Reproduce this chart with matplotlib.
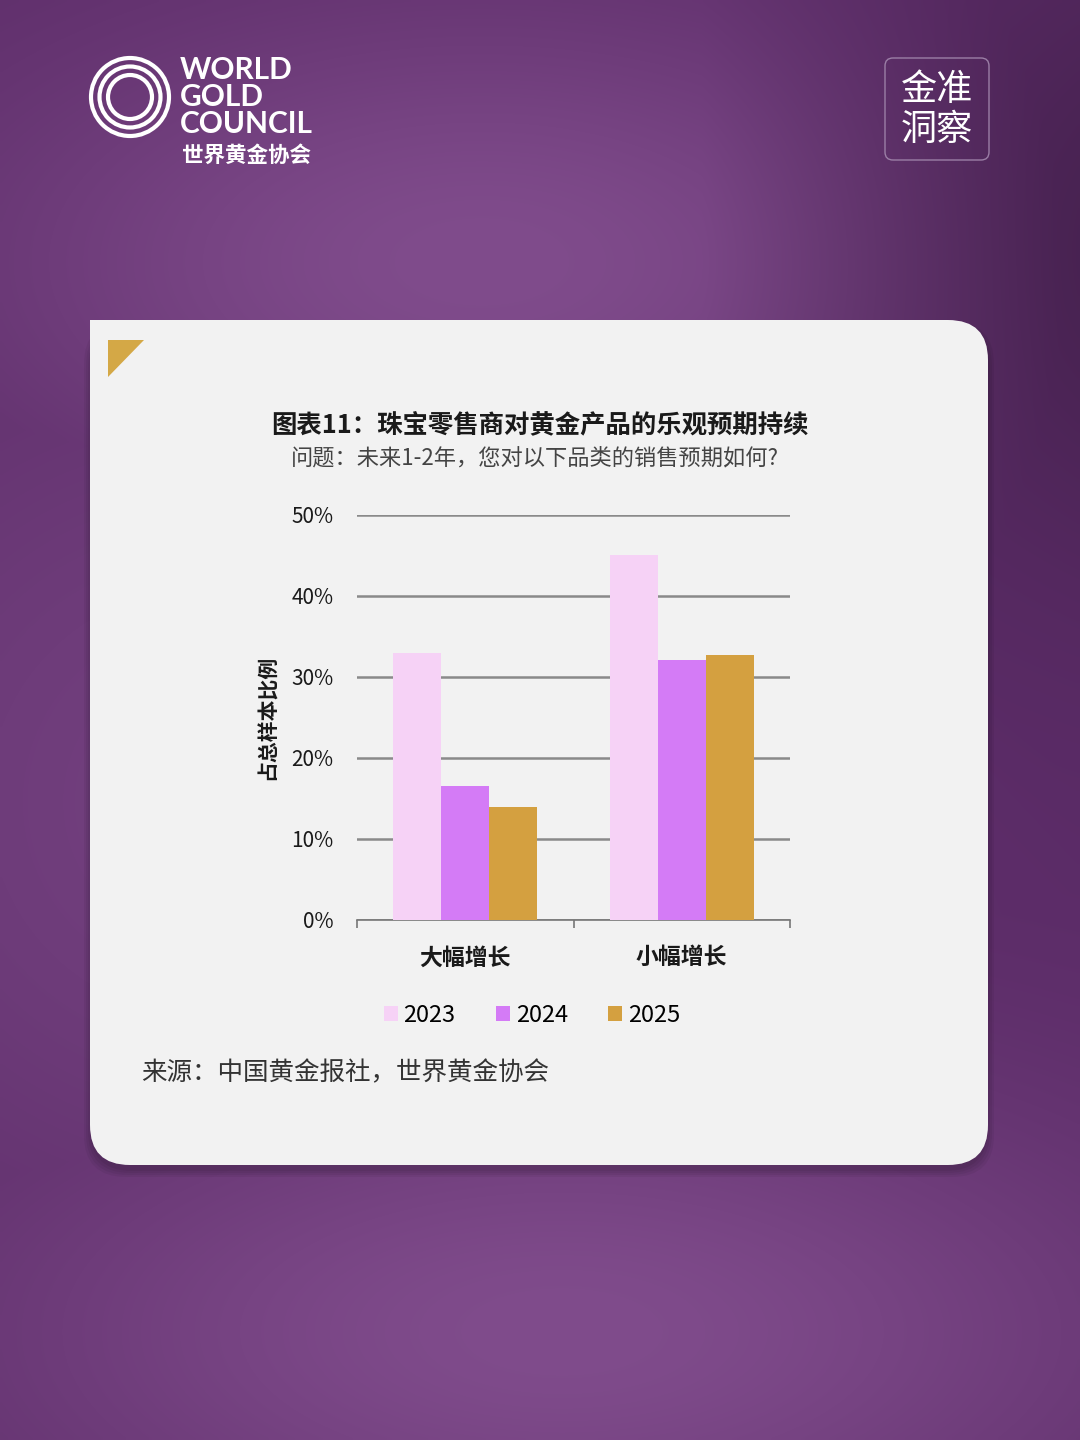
import numpy as np
import matplotlib
matplotlib.use("Agg")
import matplotlib.pyplot as plt
from matplotlib.patches import FancyBboxPatch, Rectangle, Circle, Polygon, Patch

plt.rcParams['font.family'] = ['Noto Sans CJK SC', 'DejaVu Sans']

# ---------------- data ----------------
categories = ["大幅增长", "小幅增长"]
years = ["2023", "2024", "2025"]
values_2023 = [33.0, 45.0]
values_2024 = [16.5, 32.1]
values_2025 = [14.0, 32.7]
yticks = [0, 10, 20, 30, 40, 50]
ytick_labels = ["0%", "10%", "20%", "30%", "40%", "50%"]
title = "图表11：珠宝零售商对黄金产品的乐观预期持续"
subtitle = "问题：未来1-2年，您对以下品类的销售预期如何?"
ylabel = "占总样本比例"
source = "来源：中国黄金报社，世界黄金协会"

colors = ["#F6D2F6", "#D47BF6", "#D4A040"]

W, H = 1080, 1440
fig = plt.figure(figsize=(W / 100, H / 100), dpi=100)

# ---------------- background gradient ----------------
bg = fig.add_axes([0, 0, 1, 1])
bg.set_xlim(0, W)
bg.set_ylim(H, 0)
bg.axis("off")
yy, xx = np.mgrid[0:H:4, 0:W:4]
base = np.array([0x5C, 0x2C, 0x68]) / 255.0
hi = np.array([0x80, 0x4C, 0x8C]) / 255.0
g1 = np.exp(-(((xx - 480) / 520.0) ** 2 + ((yy - 260) / 260.0) ** 2))
g2 = np.exp(-(((xx - 560) / 600.0) ** 2 + ((yy - 1330) / 260.0) ** 2))
g3 = np.exp(-(((xx - 200) / 500.0) ** 2 + ((yy - 800) / 500.0) ** 2)) * 0.6
dark = np.clip((xx - 700) / 380.0, 0, 1) * np.exp(-((yy - 250) / 350.0) ** 2) * 0.6
t = np.clip(np.maximum(np.maximum(g1, g2), g3) - dark * 0.5, 0, 1)
img = base[None, None, :] * (1 - t[..., None]) + hi[None, None, :] * t[..., None]
img = img * (1 - 0.35 * dark[..., None])
bg.imshow(img, extent=[0, W, H, 0], aspect="auto", zorder=0, interpolation="bilinear")

# card shadow
for i in range(4):
    bg.add_patch(FancyBboxPatch((90 - 2 * i, 322 - 2 * i + 6), 898 + 4 * i, 843 + 4 * i,
                                boxstyle="round,pad=0,rounding_size=42",
                                facecolor="black", edgecolor="none", alpha=0.05, zorder=1))
# card
bg.add_patch(FancyBboxPatch((90, 320), 898, 845, boxstyle="round,pad=0,rounding_size=40",
                            facecolor="#F2F2F2", edgecolor="none", zorder=2))
bg.add_patch(Rectangle((90, 320), 60, 60, facecolor="#F2F2F2", edgecolor="none", zorder=2))
bg.add_patch(Polygon([[108, 340], [144, 340], [108, 377]], closed=True,
                     facecolor="#D4A846", edgecolor="none", zorder=3))

# logo
for r in [39, 30.5, 22]:
    bg.add_patch(Circle((130, 97), r, facecolor="none", edgecolor="white", lw=3.0, zorder=3))
for txt, y in [("WORLD", 70), ("GOLD", 97), ("COUNCIL", 124)]:
    bg.text(180, y, txt, color="white", fontsize=21.5, family="Lato", fontweight="bold",
            ha="left", va="center", zorder=3)
bg.text(182, 155, "世界黄金协会", color="white", fontsize=15.5, fontweight="bold",
        ha="left", va="center", zorder=3)

# right badge
bg.add_patch(FancyBboxPatch((885, 58), 104, 102, boxstyle="round,pad=0,rounding_size=8",
                            facecolor="none", edgecolor="#9B7FA6", lw=1.0, zorder=3))
bg.text(937, 90, "金准", color="white", fontsize=26, ha="center", va="center", zorder=3)
bg.text(937, 130, "洞察", color="white", fontsize=26, ha="center", va="center", zorder=3)

# titles and source
bg.text(540, 425, title, color="#1A1A1A", fontsize=18.3, fontweight="bold",
        ha="center", va="center", zorder=3)
bg.text(535, 458, subtitle, color="#444444", fontsize=16,
        ha="center", va="center", zorder=3)
bg.text(141, 1073, source, color="#333333", fontsize=18.4,
        ha="left", va="center", zorder=3)

# ---------------- chart ----------------
ax = fig.add_axes([357 / W, 1 - 920 / H, (790 - 357) / W, (920 - 515) / H])
ax.set_facecolor("none")
x = np.arange(len(categories))
bw = 0.222
series = [values_2023, values_2024, values_2025]
for i, (vals, c, lab) in enumerate(zip(series, colors, years)):
    ax.bar(x + (i - 1) * bw, vals, width=bw, color=c, edgecolor="none", zorder=3, label=lab)

ax.set_xlim(-0.5, 1.5)
ax.set_ylim(0, 50)
ax.set_yticks(yticks)
ax.set_yticklabels(ytick_labels, fontsize=15, fontweight="medium", color="#1A1A1A")
ax.yaxis.grid(True, color="#8A8A8A", lw=1.8, zorder=1)
ax.set_axisbelow(True)
ax.tick_params(axis="y", length=0, pad=17)
ax.set_xticks(x)
ax.set_xticklabels(categories, fontsize=16.5, fontweight="bold", color="#1A1A1A")
ax.tick_params(axis="x", which="major", length=0, pad=19)
ax.set_xticks([-0.5, 0.5, 1.5], minor=True)
ax.tick_params(axis="x", which="minor", length=6, width=1.2, color="#777777", direction="out")
for s in ["top", "right", "left"]:
    ax.spines[s].set_visible(False)
ax.spines["bottom"].set_color("#777777")
ax.spines["bottom"].set_linewidth(1.2)
ax.set_ylabel(ylabel, fontsize=15, fontweight="bold", color="#1A1A1A", labelpad=10)

handles = [Patch(facecolor=c, edgecolor="none", label=y) for c, y in zip(colors, years)]
fig.legend(handles=handles, loc="center", bbox_to_anchor=(532 / W, 1 - 1015 / H), ncol=3,
           frameon=False, fontsize=17, handlelength=0.6, handleheight=0.6,
           handletextpad=0.25, columnspacing=1.7)

fig.savefig("out.png", dpi=100)
